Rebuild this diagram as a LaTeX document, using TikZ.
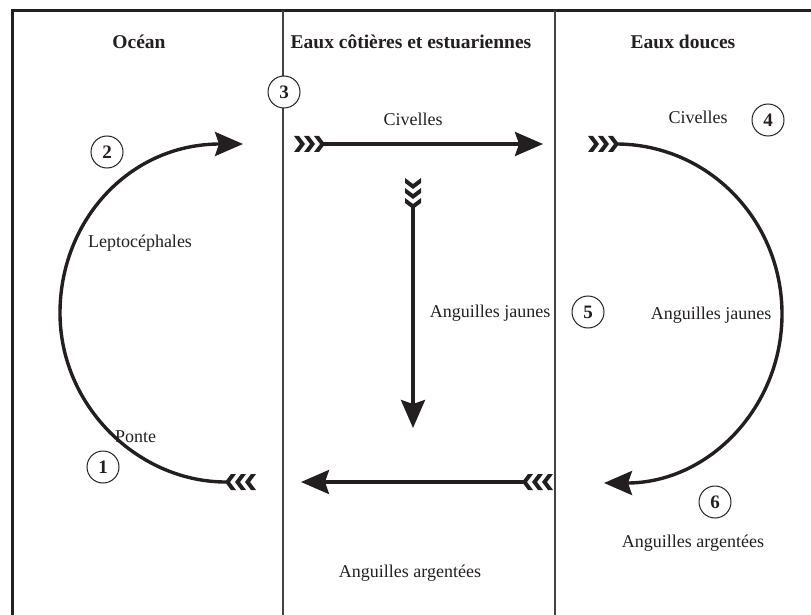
\documentclass[tikz,border=0pt]{standalone}
\usepackage{fontspec}
\setmainfont{Liberation Serif}
\usetikzlibrary{arrows.meta}
\definecolor{ink}{RGB}{35,31,32}
\tikzset{
  flow/.style={draw=ink, line width=3.4pt, -{Stealth[length=28pt,width=24pt,inset=4pt]}},
  divider/.style={draw=ink!85, line width=1.1pt},
  frame/.style={draw=ink, line width=3.5pt},
  header/.style={font=\fontsize{19.5}{23}\selectfont\bfseries, text=ink, inner sep=0pt},
  label/.style={font=\fontsize{18}{21}\selectfont, text=ink, inner sep=0pt},
  num/.style={circle, draw=ink, line width=1pt, fill=white, minimum size=32pt, inner sep=0pt, font=\fontsize{19}{21}\selectfont\bfseries, text=ink},
  feather/.pic={
    \foreach \d in {0,10,20}{
      \fill[ink] (\d,-8) -- (\d+5,-8) -- (\d+11,0) -- (\d+5,8) -- (\d,8) -- (\d+6,0) -- cycle;
    }
  }
}
\begin{document}
\begin{tikzpicture}[x=1pt,y=-1pt]
\useasboundingbox (0,0) rectangle (811,615);
% frame and dividers
\coordinate (fb) at (12.5,616);
\coordinate (fc) at (12.5,10.5);
\coordinate (fr) at (812,10.5);
\draw[frame, line cap=rect] (fb) -- (fc) -- (fr);
\coordinate (d1t) at (283,10.5);
\coordinate (d1b) at (283,616);
\coordinate (d2t) at (555,10.5);
\coordinate (d2b) at (555,616);
\draw[divider] (d1t) -- (d1b);
\draw[divider] (d2t) -- (d2b);
% headers
\node[header] (hocean) at (139,42) {Océan};
\node[header] (hcoast) at (411,42) {Eaux côtières et estuariennes};
\node[header] (hfresh) at (683,42) {Eaux douces};
% number circles
\node[num] (n1) at (103,467) {1};
\node[num] (n2) at (107,152) {2};
\node[num] (n3) at (284,92) {3};
\node[num] (n4) at (768,120) {4};
\node[num] (n5) at (588,312) {5};
\node[num] (n6) at (715,502) {6};
% labels
\node[label] (lciv1) at (413,119) {Civelles};
\node[label] (lciv2) at (698,117) {Civelles};
\node[label] (llep) at (140,243) {Leptocéphales};
\node[label] (ljau1) at (490,313) {Anguilles jaunes};
\node[label] (ljau2) at (711,315) {Anguilles jaunes};
\node[label, anchor=west] (lponte) at (115,437) {Ponte};
\node[label] (larg1) at (410,573) {Anguilles argentées};
\node[label] (larg2) at (693,543) {Anguilles argentées};
% arrow end points
\coordinate (as) at (226,482);
\coordinate (am) at (60,313);
\coordinate (ae) at (243,144);
\coordinate (bs) at (322,144);
\coordinate (be) at (543,144);
\coordinate (cs) at (616,144);
\coordinate (cm) at (782,314);
\coordinate (ce) at (604,483);
\coordinate (ds) at (413,206);
\coordinate (de) at (413,428);
\coordinate (es) at (524,482);
\coordinate (ee) at (301,482);
% arrows
\draw[flow] (as) .. controls (138,482) and (60,406) .. (am)
                 .. controls (60,220) and (130,144) .. (ae);
\draw[flow] (bs) -- (be);
\draw[flow] (cs) .. controls (708,144) and (782,220) .. (cm)
                 .. controls (782,408) and (708,483) .. (ce);
\draw[flow] (ds) -- (de);
\draw[flow] (es) -- (ee);
% feathers
\pic[rotate=180] at (256,482) {feather};
\pic at (294,144) {feather};
\pic at (588,144) {feather};
\pic[rotate=-90] at (413,178) {feather};
\pic[rotate=180] at (553,482) {feather};
\end{tikzpicture}
\end{document}
